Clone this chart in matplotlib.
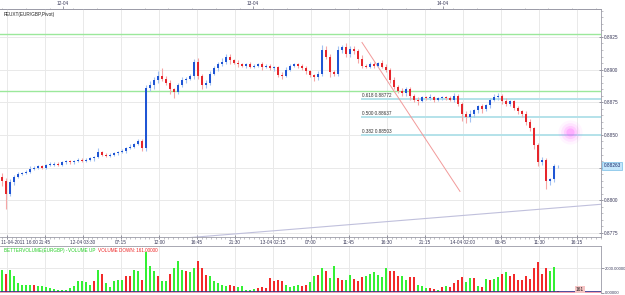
import numpy as np
import matplotlib
matplotlib.use("Agg")
import matplotlib.pyplot as plt
import matplotlib.transforms as mtransforms
from matplotlib.ticker import MultipleLocator

plt.rcParams["font.family"] = ["Liberation Sans", "DejaVu Sans"]

# prices in pips above base (EURGBP, one bar = 30 min on screen)
base = 0.8800
first_open = 18
closes = [15, 5, 14, 18, 20, 21, 22, 24, 25, 26,
          25, 27, 27, 28, 27, 29, 30, 29, 30, 31,
          30, 31, 32, 33, 37, 35, 34, 35, 36, 37,
          38, 40, 41, 43, 45, 40, 86, 88, 92, 95,
          93, 90, 85, 83, 88, 92, 93, 95, 106, 95,
          88, 90, 97, 101, 104, 106, 110, 107, 105, 104,
          103, 104, 102, 103, 104, 102, 103, 101, 102, 96,
          95, 100, 103, 104, 103, 101, 99, 96, 94, 97,
          115, 110, 98, 97, 115, 117, 112, 116, 114, 108,
          103, 102, 104, 103, 105, 102, 100, 92, 87, 84,
          82, 85, 80, 77, 76, 79, 78, 79, 77, 78,
          79, 78, 77, 80, 74, 66, 64, 66, 69, 72,
          70, 73, 77, 79, 80, 76, 74, 76, 71, 68,
          66, 60, 55, 42, 29, 31, 15, 16, 26, 26.3]
wick_up = [3, 2, 2, 1, 2, 1, 1, 2, 1, 1,
           1, 1, 2, 1, 1, 1, 1, 1, 1, 1,
           1, 1, 1, 1, 3, 1, 1, 1, 1, 1,
           1, 1, 2, 1, 2, 2, 2, 3, 2, 4,
           6, 2, 2, 1, 2, 2, 1, 2, 2, 3,
           2, 2, 2, 2, 2, 3, 2, 2, 1, 2,
           1, 1, 2, 1, 1, 2, 1, 1, 1, 1,
           2, 2, 1, 1, 1, 1, 2, 1, 1, 2,
           4, 3, 2, 2, 3, 2, 3, 2, 2, 2,
           3, 1, 2, 2, 1, 2, 2, 1, 2, 1,
           2, 2, 2, 1, 2, 1, 1, 2, 1, 1,
           1, 1, 2, 2, 1, 1, 2, 3, 1, 1,
           2, 1, 1, 2, 2, 1, 2, 1, 1, 1,
           1, 2, 2, 1, 2, 2, 1, 1, 2, 1]
wick_dn = [4, 12, 2, 2, 1, 1, 1, 1, 1, 1,
           1, 1, 1, 1, 1, 1, 1, 1, 1, 1,
           1, 1, 1, 2, 1, 1, 1, 1, 1, 1,
           1, 2, 1, 1, 1, 2, 2, 2, 3, 2,
           2, 2, 4, 5, 2, 1, 2, 1, 2, 2,
           3, 2, 2, 1, 2, 1, 2, 3, 1, 2,
           1, 2, 1, 1, 1, 2, 1, 1, 2, 2,
           2, 1, 1, 1, 2, 1, 2, 2, 3, 2,
           2, 2, 4, 2, 2, 2, 2, 2, 2, 3,
           2, 1, 1, 2, 1, 1, 2, 2, 2, 2,
           2, 2, 3, 2, 3, 1, 1, 1, 2, 1,
           1, 1, 1, 2, 2, 5, 5, 4, 2, 2,
           3, 2, 2, 1, 2, 2, 2, 2, 2, 2,
           2, 2, 2, 3, 3, 2, 6, 3, 2, 1]
volumes = [1840, 1520, 1840, 1360, 800, 640, 640, 640, 640, 560,
           560, 480, 400, 320, 240, 240, 240, 400, 560, 960,
           960, 880, 640, 960, 1840, 1520, 800, 480, 960, 1040,
           1040, 1360, 1360, 1840, 1760, 1040, 3280, 2160, 1760, 1360,
           960, 960, 1520, 2000, 2560, 1840, 1760, 1680, 2000, 2560,
           2000, 1440, 1360, 960, 800, 640, 560, 640, 560, 480,
           560, 240, 240, 320, 400, 480, 400, 1200, 960, 1040,
           960, 640, 480, 560, 640, 560, 640, 880, 1360, 1440,
           2000, 1760, 1200, 2160, 1200, 1040, 1040, 1440, 1120, 960,
           1280, 1360, 1520, 1680, 1440, 1280, 2000, 1760, 1760, 1360,
           1360, 1040, 1280, 1280, 640, 560, 400, 400, 320, 240,
           480, 560, 480, 800, 1040, 1280, 880, 1200, 1200, 560,
           480, 1120, 1040, 1120, 1280, 1520, 1680, 1360, 1520, 1040,
           1040, 1360, 1120, 2000, 2480, 1520, 2000, 1760, 2080, 161]
vol_dir = "".join(["GRGGGGGGRG", "GGGGGGGGGG", "GGGRGRGGGG", "GRRGGRGGGR",
                   "GGRGGGRGGR", "RRGGGGGRRG", "GGGGRRRRRR", "RGGGGRRGGR",
                   "GRGGRRGGRR", "RGGGGGGRRR", "GGRRGGGRRG", "RGRRRRGGRG",
                   "RGRGGRGRRR", "RRRRRRRGGR"])

time_labels = ["11-04-2011 16:00", "21:45", "12-04 03:30", "07:15", "12:00",
               "16:45", "21:30", "13-04 02:15", "07:00", "11:45", "16:30",
               "21:15", "14-04 02:00", "06:45", "11:30", "16:15"]
day_labels = ["12-04", "13-04", "14-04"]
price_ticks = [0.8775, 0.8800, 0.8825, 0.8850, 0.8875, 0.8900, 0.8925]
green_levels = [0.89273, 0.88837]
fib_ratios = ["0.618", "0.500", "0.382"]
fib_levels = [0.88772, 0.88637, 0.88503]
fib_swing = [0.89208, 0.88068]
fib_bars = [90, 114.5]
trend_bars = [37, 150]
trend_price = [0.8769, 0.8797]
glow_bar, glow_price = 142, 0.88523
last_price = 0.88263
vol_title = "BETTERVOLUME(EURGBP) - "

x = np.arange(len(closes))
c = np.array(closes, dtype=float)
o = np.array([first_open] + closes[:-1], dtype=float)
hi = base + (np.maximum(o, c) + np.array(wick_up)) / 1e4
lo = base + (np.minimum(o, c) - np.array(wick_dn)) / 1e4
body_lo = base + np.minimum(o, c) / 1e4
body_h = np.maximum(np.abs(c - o), 0.4) / 1e4
up = c >= o

fig = plt.figure(figsize=(6.25, 2.95), dpi=100)
ax = fig.add_axes([0, 58 / 295, 601 / 625, 228 / 295])
axv = fig.add_axes([0, 2 / 295, 601 / 625, 47 / 295])

xmin, xmax = -0.5, 149.75
tick_pos = 1.25 + 9.5 * np.arange(len(time_labels))
fs = 3.4
axcol = "#3a3a5a"

# --- price panel ---
ax.set_xlim(xmin, xmax)
ax.set_ylim(0.87719, 0.89464)
ax.set_xticks(tick_pos)
ax.set_xticklabels([""] + time_labels[1:], fontsize=fs, color=axcol)
ax.text(0.002, -0.012, time_labels[0], transform=ax.transAxes, fontsize=fs,
        color=axcol, va="top", ha="left")
ax.xaxis.set_minor_locator(MultipleLocator(9.5 / 8))
ax.yaxis.tick_right()
ax.set_yticks(price_ticks)
ax.set_yticklabels(["%.4f" % p if p != 0.8825 else "" for p in price_ticks],
                   fontsize=fs, color=axcol)
ax.yaxis.set_minor_locator(MultipleLocator(0.0005))
ax.tick_params(axis="both", which="major", length=2.5, width=0.5, pad=1,
               colors="#707080", labelcolor=axcol, direction="inout")
ax.tick_params(axis="both", which="minor", length=1.2, width=0.4,
               colors="#909098")
ax.grid(True, which="major", color="#e9e9e9", lw=0.7)
ax.set_axisbelow(True)
ax.spines["left"].set_visible(False)
for side in ["right", "bottom", "top"]:
    ax.spines[side].set_color("#9a9aa6")
    ax.spines[side].set_linewidth(0.6)

top = ax.secondary_xaxis("top")
top.set_xticks(15.25 + 47.5 * np.arange(len(day_labels)))
top.set_xticklabels(day_labels, fontsize=fs, color=axcol)
top.xaxis.set_minor_locator(MultipleLocator(47.5 / 8))
top.tick_params(which="major", length=2.0, width=0.5, pad=0.2,
                colors="#707080", labelcolor=axcol)
top.tick_params(which="minor", length=1.0, width=0.4, colors="#909098")
top.spines["top"].set_color("#9a9aa6")
top.spines["top"].set_linewidth(0.6)

for lvl in green_levels:
    ax.axhline(lvl, color="#9be89b", lw=1.0, zorder=1)

ax.plot(trend_bars, trend_price, color="#c0c0dc", lw=0.8, zorder=1)

for r, lvl in zip(fib_ratios, fib_levels):
    ax.plot([fib_bars[0], xmax], [lvl, lvl], color="#b4e2ea", lw=1.4, zorder=1)
    ax.text(fib_bars[0], lvl + 0.00008, "%s %.5f" % (r, lvl), fontsize=3.3,
            color="#303030", va="bottom", ha="left")
ax.plot(fib_bars, fib_swing, color="#f29a9a", lw=0.7, zorder=1)

# candles
ax.vlines(x[up], lo[up], hi[up], color="#a3c2f2", lw=0.8, zorder=2)
ax.vlines(x[~up], lo[~up], hi[~up], color="#f5a6a6", lw=0.8, zorder=2)
ax.bar(x[up], body_h[up], bottom=body_lo[up], width=0.6, color="#1f55d4",
       lw=0, zorder=3)
ax.bar(x[~up], body_h[~up], bottom=body_lo[~up], width=0.6, color="#e6252b",
       lw=0, zorder=3)

for s, a in zip([300, 180, 90, 35], [0.06, 0.1, 0.16, 0.25]):
    ax.scatter([glow_bar], [glow_price], s=s, color="#ff55ff", alpha=a, lw=0,
               zorder=2)

ax.text(0.006, 0.985, "FEUXT(EUR/GBP,Pivot)", transform=ax.transAxes,
        fontsize=fs, color="#202020", va="top", ha="left")

tr = mtransforms.blended_transform_factory(ax.transAxes, ax.transData)
ax.text(1.004, last_price, "%.5f" % last_price, transform=tr, fontsize=fs,
        color="#1a2a6a", va="center", ha="left", zorder=5,
        bbox=dict(boxstyle="square,pad=0.25", fc="#c4e6fb", ec="#78bde6",
                  lw=0.5))

# --- volume panel ---
axv.set_xlim(xmin, xmax)
axv.set_ylim(0, 3760)
colors = ["#34f034" if d == "G" else "#f22a2a" for d in vol_dir]
axv.bar(x, volumes, width=0.72, color=colors, lw=0, zorder=3)
axv.axhline(volumes[-1], color="#2a2a8a", lw=0.6, zorder=4)
axv.axhline(0, color="#f4a0b0", lw=1.5, zorder=4)
axv.set_xticks(tick_pos)
axv.set_xticklabels([])
axv.yaxis.tick_right()
axv.set_yticks([0, 2000])
axv.set_yticklabels(["0.00000", "2000.00000"], fontsize=3.0, color=axcol)
axv.tick_params(axis="x", length=0)
axv.tick_params(axis="y", length=2.0, width=0.5, pad=0.8, colors="#707080",
                labelcolor=axcol)
axv.grid(True, color="#e9e9e9", lw=0.7)
axv.set_axisbelow(True)
axv.spines["left"].set_visible(False)
axv.spines["bottom"].set_visible(False)
for side in ["right", "top"]:
    axv.spines[side].set_color("#9a9aa6")
    axv.spines[side].set_linewidth(0.6)

t1 = axv.text(0.006, 0.9, vol_title, transform=axv.transAxes, fontsize=3.3,
              color="#22cc22", va="center", ha="left")
t2 = axv.annotate("VOLUME UP  ", xycoords=t1, xy=(1, 0), fontsize=3.3,
                  color="#22cc22", va="bottom", ha="left")
axv.annotate("VOLUME DOWN: %.5f" % volumes[-1], xycoords=t2, xy=(1, 0),
             fontsize=3.3, color="#ee2222", va="bottom", ha="left")
axv.text(0.965, 0.02, "%d" % volumes[-1], transform=axv.transAxes, fontsize=fs,
         color="#202020", va="bottom", ha="center", zorder=5,
         bbox=dict(boxstyle="square,pad=0.2", fc="#f6c4c4", ec="none"))

fig.savefig("out.png", dpi=100)
